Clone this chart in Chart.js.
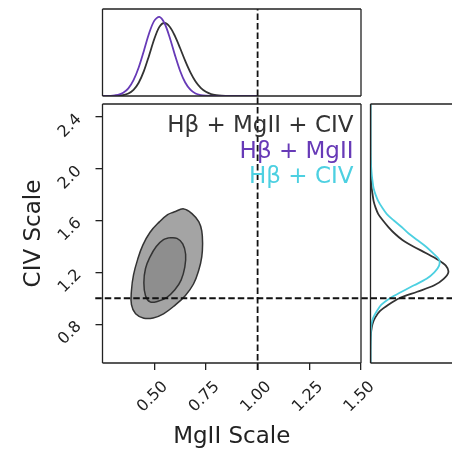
<!DOCTYPE html>
<html>
<head>
<meta charset="utf-8">
<script src="https://cdn.jsdelivr.net/npm/chart.js@4.4.1/dist/chart.umd.min.js"></script>
<style>
html,body{margin:0;padding:0;overflow:hidden;background:#fff;}
#wrap{position:relative;width:452px;height:451px;overflow:hidden;}
canvas{position:absolute;left:0;top:0;}
</style>
</head>
<body>
<div id="wrap">
<canvas id="topChart" width="452" height="451"></canvas>
<canvas id="mainChart" width="452" height="451"></canvas>
<canvas id="sideChart" width="452" height="451"></canvas>
</div>
<script>
// marginal of MgII scale (peak normalised)
const mgGrid = [0.25,0.275,0.30,0.325,0.35,0.375,0.40,0.425,0.45,0.475,0.50,0.525,0.55,0.575,0.60,0.625,0.65,0.675,0.70,0.725,0.75,0.775,0.80,0.825,0.85,0.875,0.90,0.925,0.95,0.975,1.00];
const mgHbMg = [0,0.001,0.005,0.015,0.041,0.096,0.20,0.36,0.57,0.79,0.95,1.00,0.92,0.74,0.52,0.32,0.17,0.08,0.032,0.012,0.004,0.001,0,0,0,0,0,0,0,0,0];
const mgAll = [0,0,0.001,0.003,0.011,0.031,0.077,0.167,0.314,0.51,0.717,0.874,0.924,0.875,0.76,0.607,0.444,0.299,0.183,0.103,0.053,0.025,0.011,0.004,0.002,0.001,0,0,0,0,0];

// marginal of CIV scale
const civGrid = [0.50,0.60,0.70,0.75,0.80,0.85,0.90,0.95,1.00,1.05,1.10,1.15,1.20,1.25,1.30,1.35,1.40,1.45,1.50,1.55,1.60,1.65,1.70,1.75,1.80,1.85,1.90,1.95,2.00,2.05,2.10,2.20,2.50];
const civAll = [0,0,0.003,0.01,0.025,0.06,0.12,0.23,0.37,0.60,0.82,0.94,1.00,0.97,0.86,0.71,0.55,0.41,0.31,0.23,0.16,0.10,0.065,0.04,0.027,0.015,0.008,0.004,0.002,0.001,0,0,0];
const civHbC = [0,0,0.002,0.005,0.013,0.035,0.08,0.14,0.25,0.40,0.56,0.72,0.82,0.88,0.88,0.80,0.71,0.60,0.49,0.40,0.30,0.21,0.15,0.10,0.065,0.04,0.027,0.017,0.01,0.005,0.002,0,0];

// 2d contours (MgII, CIV)
const outerX = [0.595,0.643,0.685,0.716,0.730,0.734,0.730,0.716,0.690,0.650,0.600,0.545,0.495,0.450,0.410,0.390,0.390,0.400,0.420,0.445,0.480,0.525,0.565,0.595];
const outerY = [1.666,1.690,1.650,1.590,1.520,1.420,1.320,1.220,1.110,1.020,0.945,0.880,0.848,0.846,0.880,0.950,1.060,1.180,1.300,1.410,1.510,1.590,1.645,1.666];
const innerX = [0.575,0.610,0.638,0.652,0.648,0.630,0.600,0.560,0.515,0.480,0.458,0.450,0.458,0.480,0.510,0.545,0.575];
const innerY = [1.468,1.462,1.420,1.340,1.240,1.140,1.065,1.005,0.975,0.972,1.020,1.120,1.230,1.320,1.400,1.452,1.468];

const xTicks = [0.50,0.75,1.00,1.25,1.50];
const yTicks = [0.8,1.2,1.6,2.0,2.4];
const legendLabels = ["H\u03b2 + MgII + CIV","H\u03b2 + MgII","H\u03b2 + CIV"];
const legendColors = ["#333333","#673ab7","#4dd0e1"];

const FONT = "DejaVu Sans";
Chart.defaults.font.family = FONT;

function pts(xs, ys){
  return xs.map((x,i) => ({x:x, y:ys[i]}));
}

function framePlugin(sides){
  return {
    id:"frame",
    afterDraw(chart){
      const a = chart.chartArea, ctx = chart.ctx;
      ctx.save();
      ctx.strokeStyle = "#222";
      ctx.lineWidth = 1.3;
      ctx.beginPath();
      if(sides.includes("t")){ ctx.moveTo(a.left, a.top); ctx.lineTo(a.right, a.top); }
      if(sides.includes("b")){ ctx.moveTo(a.left, a.bottom); ctx.lineTo(a.right, a.bottom); }
      if(sides.includes("l")){ ctx.moveTo(a.left, a.top); ctx.lineTo(a.left, a.bottom); }
      if(sides.includes("r")){ ctx.moveTo(a.right, a.top); ctx.lineTo(a.right, a.bottom); }
      ctx.stroke();
      ctx.restore();
    }
  };
}

function baseOpts(){
  return {
    responsive:false,
    animation:false,
    devicePixelRatio:1,
    plugins:{legend:{display:false}, tooltip:{enabled:false}},
    elements:{point:{radius:0}}
  };
}

// top panel
const topOpts = baseOpts();
topOpts.layout = {padding:{left:102.5, right:91, top:9, bottom:355}};
topOpts.scales = {
  x:{type:"linear", min:0.25, max:1.5, display:false},
  y:{type:"linear", min:0, max:1.1, display:false}
};
new Chart(document.getElementById("topChart"),{
  type:"scatter",
  data:{datasets:[
    {data:[{x:1,y:0},{x:1,y:1.1}], showLine:true, borderColor:"#111", borderWidth:1.8, borderDash:[6.5,3]},
    {data:pts(mgGrid, mgHbMg), showLine:true, borderColor:legendColors[1], borderWidth:1.8, tension:0.3},
    {data:pts(mgGrid, mgAll), showLine:true, borderColor:legendColors[0], borderWidth:1.8, tension:0.3}
  ]},
  options:topOpts,
  plugins:[framePlugin("tblr")]
});

// main panel
const mainPlugin = {
  id:"mainText",
  afterDraw(chart){
    const ctx = chart.ctx, xs = chart.scales.x, ys = chart.scales.y;
    ctx.save();
    ctx.fillStyle = "#222";
    ctx.font = "16px '" + FONT + "'";
    ctx.textAlign = "center";
    ctx.textBaseline = "middle";
    xTicks.forEach(v => {
      ctx.save();
      ctx.translate(xs.getPixelForValue(v) - 1.5, 397);
      ctx.rotate(-Math.PI/4);
      ctx.fillText(v.toFixed(2), 0, 0);
      ctx.restore();
    });
    yTicks.forEach(v => {
      ctx.save();
      ctx.translate(70, ys.getPixelForValue(v) + 9);
      ctx.rotate(-Math.PI/4);
      ctx.fillText(v.toFixed(1), 0, 0);
      ctx.restore();
    });
    ctx.font = "23px '" + FONT + "'";
    ctx.textAlign = "right";
    ctx.textBaseline = "alphabetic";
    const base = [132, 157.5, 183];
    legendLabels.forEach((t,i) => {
      ctx.fillStyle = legendColors[i];
      ctx.fillText(t, 353.5, base[i]);
    });
    ctx.restore();
  }
};

const tickGrid = {drawOnChartArea:false, drawTicks:true, tickLength:7, color:"#222", lineWidth:1.3};
const mainOpts = baseOpts();
mainOpts.layout = {padding:{left:0, right:91, top:104, bottom:0}};
mainOpts.scales = {
  x:{
    type:"linear", min:0.25, max:1.5,
    afterBuildTicks: s => { s.ticks = xTicks.map(v => ({value:v})); },
    afterFit: s => { s.height = 88; },
    grid:tickGrid, border:{display:false}, ticks:{display:false},
    title:{display:true, text:"MgII Scale", color:"#222", font:{size:23}, padding:{top:0, bottom:0}}
  },
  y:{
    type:"linear", min:0.5, max:2.5,
    afterBuildTicks: s => { s.ticks = yTicks.map(v => ({value:v})); },
    afterFit: s => { s.width = 102.5; },
    grid:tickGrid, border:{display:false}, ticks:{display:false},
    title:{display:true, text:"CIV Scale", color:"#222", font:{size:23}, padding:{top:20, bottom:0}}
  }
};
new Chart(document.getElementById("mainChart"),{
  type:"scatter",
  data:{datasets:[
    {data:[{x:1,y:0.445},{x:1,y:2.555}], showLine:true, borderColor:"#111", borderWidth:1.8, borderDash:[6.5,3], clip:false},
    {data:[{x:0.215,y:1},{x:1.535,y:1}], showLine:true, borderColor:"#111", borderWidth:1.8, borderDash:[6.5,3], clip:false},
    {data:pts(innerX, innerY), showLine:true, borderColor:"#333", borderWidth:1.5, backgroundColor:"#8e8e8e", fill:"shape", tension:0.4},
    {data:pts(outerX, outerY), showLine:true, borderColor:"#333", borderWidth:1.5, backgroundColor:"#a4a4a4", fill:"shape", tension:0.4}
  ]},
  options:mainOpts,
  plugins:[framePlugin("tblr"), mainPlugin]
});

// right panel: its right edge falls just outside the picture
const sideOpts = baseOpts();
sideOpts.layout = {padding:{left:370.5, right:0, top:104, bottom:88}};
sideOpts.scales = {
  x:{type:"linear", min:0, max:1.047, display:false},
  y:{type:"linear", min:0.5, max:2.5, display:false}
};
new Chart(document.getElementById("sideChart"),{
  type:"scatter",
  data:{datasets:[
    {data:[{x:0,y:1},{x:1.047,y:1}], showLine:true, borderColor:"#111", borderWidth:1.8, borderDash:[6.5,3]},
    {data:pts(civHbC, civGrid), showLine:true, borderColor:legendColors[2], borderWidth:1.8, tension:0.3},
    {data:pts(civAll, civGrid), showLine:true, borderColor:legendColors[0], borderWidth:1.8, tension:0.3}
  ]},
  options:sideOpts,
  plugins:[framePlugin("tbl")]
});
</script>
</body>
</html>
